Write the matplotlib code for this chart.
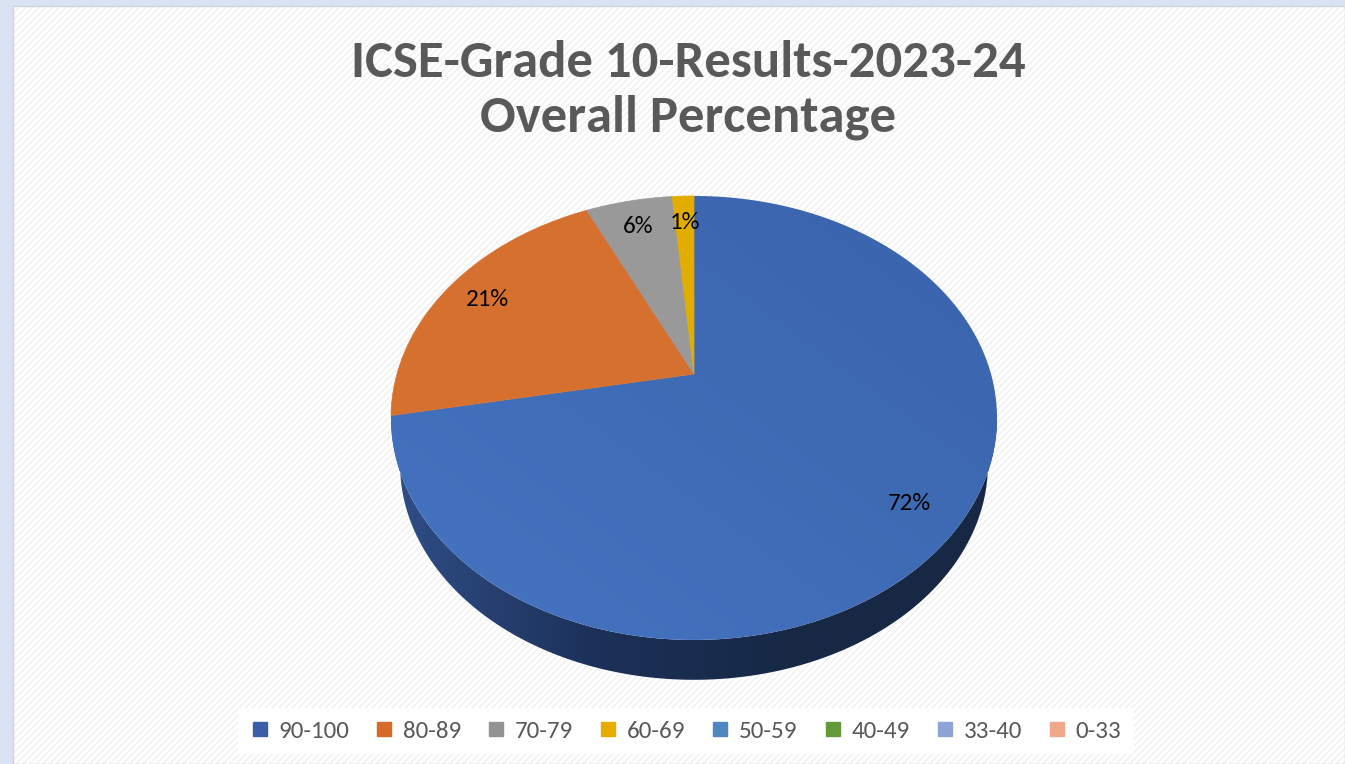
import numpy as np
import matplotlib
matplotlib.use("Agg")
import matplotlib.pyplot as plt
from matplotlib import font_manager
from matplotlib.patches import Polygon, Rectangle
from matplotlib.lines import Line2D
from matplotlib.colors import LinearSegmentedColormap, to_rgb

# data
categories = ["90-100", "80-89", "70-79", "60-69", "50-59", "40-49", "33-40", "0-33"]
values = [72.0, 21.0, 5.6, 1.4, 0, 0, 0, 0]
colors = ["#3c64ad", "#d6702e", "#999999", "#e2ac00", "#4f88c0", "#64993c", "#8fa4d6", "#f0a88b"]
legend_colors = ["#3b5ea8", "#d76a28", "#939393", "#e6ac00", "#4f88c0", "#64993b", "#8fa4d6", "#f0a88b"]
title = "ICSE-Grade 10-Results-2023-24\nOverall Percentage"

# pick a Calibri-like font if there is one
installed = {f.name for f in font_manager.fontManager.ttflist}
font = "Lato"
title_size, label_size = 27, 16
for cand, ts, ls in [("Carlito", 38, 18), ("Liberation Sans Narrow", 34, 15.8)]:
    if cand in installed:
        font, title_size, label_size = cand, ts, ls
        break
plt.rcParams["font.family"] = [font, "DejaVu Sans"]

W, H = 1345, 764
fig = plt.figure(figsize=(W / 100, H / 100), dpi=100)
fig.patch.set_facecolor("#dae3f3")
ax = fig.add_axes([0, 0, 1, 1])
ax.axis("off")

# chart area with the fine diagonal stripes
ax.add_patch(Rectangle((13, 6), W - 13, H - 6, facecolor="white", edgecolor="none", zorder=0))
plt.rcParams["hatch.linewidth"] = 1.0
ax.add_patch(Rectangle((13, 6), W - 13, H - 6, facecolor="none", edgecolor="#efefef",
                       hatch="/////", linewidth=0, zorder=0.5))
ax.add_patch(Rectangle((13, 6), W - 13, H - 6, facecolor="none", edgecolor="#d4d4d4",
                       linewidth=1, zorder=0.6))

# perspective pie geometry (pixels)
cx, cy = 694, 374
sx, sy = 297, 213.3
k = 0.198          # perspective strength
shrink = 0.97      # bottom rim is further away, so a bit smaller
drop = 46.5        # thickness of the pie


def proj(r, th):
    u = r * np.sin(th)
    v = -r * np.cos(th)
    w = 1 - k * v
    return cx + sx * u / w, cy + sy * v / w


tt = np.linspace(0, 2 * np.pi, 3601)
rx, ry = proj(1, tt)
ymid = 0.5 * (ry.min() + ry.max())


def proj_bottom(th):
    x, y = proj(1, th)
    return cx + (x - cx) * shrink, ymid + (y - ymid) * shrink + drop


def gradient_fill(xy, stops, mode, z):
    patch = Polygon(xy, closed=True, facecolor="none", edgecolor="none")
    ax.add_patch(patch)
    x0, y0 = xy[:, 0].min(), xy[:, 1].min()
    x1, y1 = xy[:, 0].max(), xy[:, 1].max()
    gx, gy = np.meshgrid(np.linspace(0, 1, 200), np.linspace(0, 1, 200))
    if mode == "h":
        Z = gx
    else:
        Z = 0.5 * (gx + (1 - gy))
    cmap = LinearSegmentedColormap.from_list("g", stops)
    im = ax.imshow(Z, cmap=cmap, extent=(x0, x1, y1, y0), origin="upper",
                   aspect="auto", interpolation="bilinear", zorder=z)
    im.set_clip_path(patch)


total = sum(values)
fracs = [v / total for v in values]
bounds = np.concatenate([[0], np.cumsum(fracs)]) * 2 * np.pi

# front part of the rim where the side wall can show
th_right = tt[np.argmax(rx)]
th_left = tt[np.argmin(rx)]

for i, f in enumerate(fracs):
    if f <= 0:
        continue
    a, b = bounds[i], bounds[i + 1]
    lo, hi = max(a, th_right), min(b, th_left)
    if hi > lo:
        th = np.linspace(lo, hi, 300)
        x, y = proj(1, th)
        xb, yb = proj_bottom(th)
        side = np.column_stack([np.concatenate([x, xb[::-1]]),
                                np.concatenate([y, yb[::-1]])])
        if i == 0:
            gradient_fill(side, ["#2f4e87", "#1c3159", "#172845", "#172845"], "h", 2)
        else:
            dark = tuple(c * 0.5 for c in to_rgb(colors[i]))
            ax.add_patch(Polygon(side, closed=True, facecolor=dark, edgecolor=dark,
                                 linewidth=0.5, zorder=2))

for i, f in enumerate(fracs):
    if f <= 0:
        continue
    th = np.linspace(bounds[i], bounds[i + 1], max(int(f * 720), 8))
    x, y = proj(1, th)
    px, py = proj(0, 0)
    top = np.column_stack([np.concatenate([[px], x]), np.concatenate([[py], y])])
    if i == 0:
        gradient_fill(top, ["#4574c1", "#3a63ab"], "d", 3)
    else:
        ax.add_patch(Polygon(top, closed=True, facecolor=colors[i], edgecolor=colors[i],
                             linewidth=0.5, zorder=3))

    mid = 0.5 * (bounds[i] + bounds[i + 1])
    lx, ly = proj(0.84, mid)
    ax.text(lx, ly + 8, f"{f * 100:.0f}%", ha="center", va="baseline",
            fontsize=label_size, color="black", zorder=5)

# title
lines = title.split("\n")
ax.text(688, 77, lines[0], ha="center", va="baseline", fontsize=title_size,
        fontweight="bold", color="#595959", zorder=5)
ax.text(688, 132, lines[1], ha="center", va="baseline", fontsize=title_size,
        fontweight="bold", color="#595959", zorder=5)

# legend
handles = [Line2D([], [], marker="s", linestyle="none", markersize=10,
                  markerfacecolor=c, markeredgecolor=c) for c in legend_colors]
leg = ax.legend(handles, categories, loc="center", bbox_to_anchor=(686, 731),
                bbox_transform=ax.transData, ncol=len(categories), frameon=True,
                facecolor="white", edgecolor="none", fancybox=False, framealpha=1,
                fontsize=label_size, handlelength=0.7, handletextpad=0.4,
                columnspacing=1.05, borderpad=0.5, labelcolor="#595959")
leg.set_zorder(6)

ax.set_xlim(0, W)
ax.set_ylim(H, 0)
fig.savefig("out.png", dpi=100, facecolor=fig.get_facecolor())
